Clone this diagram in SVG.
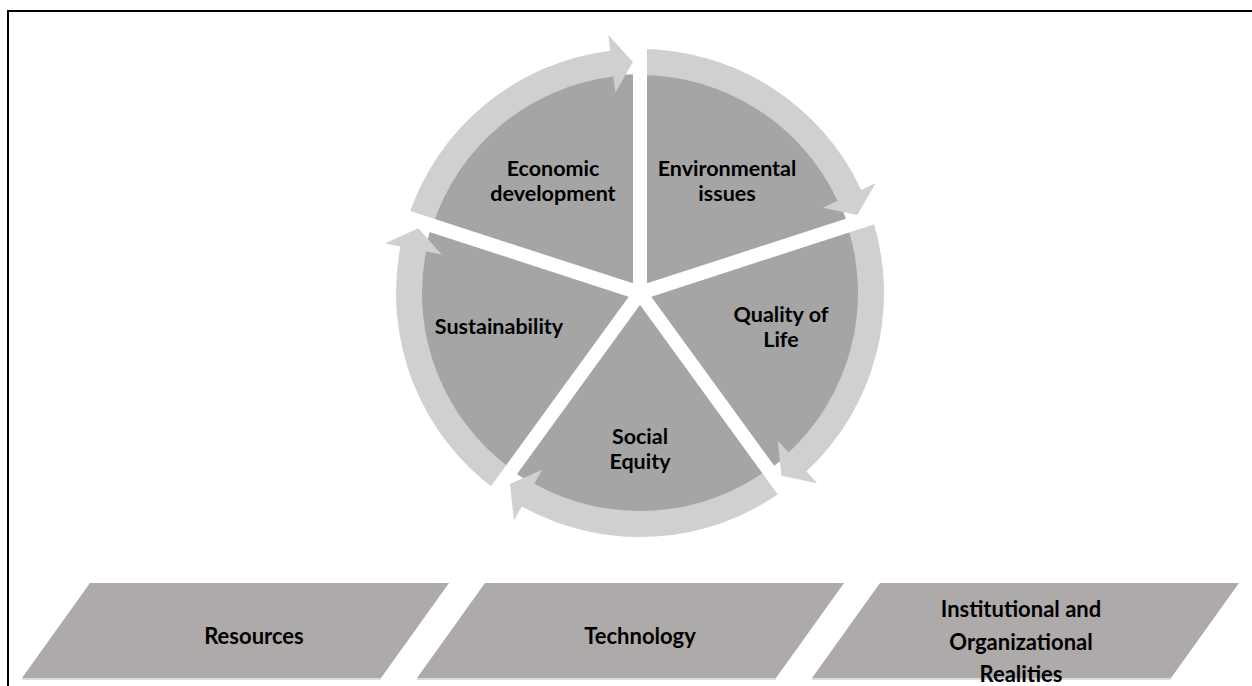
<svg xmlns="http://www.w3.org/2000/svg" xmlns:xlink="http://www.w3.org/1999/xlink" width="1252" height="686" viewBox="0 0 1252 686">
  <style>
    .sector { fill: #a5a5a5; }
    .ring { fill: #d0d0d0; }
    .gap { stroke: #ffffff; stroke-width: 14; }
    .base { fill: #aeaaaa; }
    .edge { stroke: #dcdcdc; stroke-width: 2; }
    .lbl { font-family: Lato, "Liberation Sans", sans-serif; font-weight: 700; font-size: 21.5px; fill: #000000; text-anchor: middle; }
    .blbl { font-family: Lato, "Liberation Sans", sans-serif; font-weight: 700; font-size: 22px; fill: #000000; text-anchor: middle; }
    .frame { fill: none; stroke: #000000; stroke-width: 2; }
  </style>
  <defs>
    <!-- one 72 degree pie slice, starting at 12 o'clock -->
    <path id="slice" d="M640 293 L640 74 A219 219 0 0 1 848.28 225.33 Z"/>
    <!-- curved arrow on the rim of one slice, head pointing clockwise -->
    <path id="rimArrow" d="M640 49 A244 244 0 0 1 861.14 189.88 L875.64 183.12 L857.41 214.94 L823.07 207.63 L837.58 200.87 A218 218 0 0 0 640 75 Z"/>
  </defs>

  <rect width="1252" height="686" fill="#ffffff"/>
  <path class="frame" d="M8 686 V11 H1252"/>

  <!-- cycle slices -->
  <g id="environmental">
    <use xlink:href="#slice" class="sector"/>
    <use xlink:href="#rimArrow" class="ring"/>
    <text class="lbl" x="727" y="176">Environmental</text>
    <text class="lbl" x="727" y="201">issues</text>
  </g>
  <g id="quality-of-life">
    <use xlink:href="#slice" class="sector" transform="rotate(72 640 293)"/>
    <use xlink:href="#rimArrow" class="ring" transform="rotate(72 640 293)"/>
    <text class="lbl" x="781" y="322">Quality of</text>
    <text class="lbl" x="781" y="347">Life</text>
  </g>
  <g id="social-equity">
    <use xlink:href="#slice" class="sector" transform="rotate(144 640 293)"/>
    <use xlink:href="#rimArrow" class="ring" transform="rotate(144 640 293)"/>
    <text class="lbl" x="640" y="444">Social</text>
    <text class="lbl" x="640" y="469">Equity</text>
  </g>
  <g id="sustainability">
    <use xlink:href="#slice" class="sector" transform="rotate(216 640 293)"/>
    <use xlink:href="#rimArrow" class="ring" transform="rotate(216 640 293)"/>
    <text class="lbl" x="499" y="334">Sustainability</text>
  </g>
  <g id="economic-development">
    <use xlink:href="#slice" class="sector" transform="rotate(288 640 293)"/>
    <use xlink:href="#rimArrow" class="ring" transform="rotate(288 640 293)"/>
    <text class="lbl" x="553" y="176">Economic</text>
    <text class="lbl" x="553" y="201">development</text>
  </g>

  <!-- white separators between slices -->
  <g id="connectors">
    <line class="gap" x1="640" y1="293" x2="640" y2="26"/>
    <line class="gap" x1="640" y1="293" x2="640" y2="26" transform="rotate(72 640 293)"/>
    <line class="gap" x1="640" y1="293" x2="640" y2="26" transform="rotate(144 640 293)"/>
    <line class="gap" x1="640" y1="293" x2="640" y2="26" transform="rotate(216 640 293)"/>
    <line class="gap" x1="640" y1="293" x2="640" y2="26" transform="rotate(288 640 293)"/>
  </g>

  <!-- foundation blocks -->
  <g id="resources">
    <polygon class="base" points="90,583 449,583 381,678 22,678"/>
    <line class="edge" x1="22" y1="679" x2="381" y2="679"/>
    <text class="blbl" x="254" y="644">Resources</text>
  </g>
  <g id="technology">
    <polygon class="base" points="485,583 844,583 776,678 417,678"/>
    <line class="edge" x1="417" y1="679" x2="776" y2="679"/>
    <text class="blbl" x="640" y="644">Technology</text>
  </g>
  <g id="institutional">
    <polygon class="base" points="880,583 1239,583 1171,678 812,678"/>
    <line class="edge" x1="812" y1="679" x2="1171" y2="679"/>
    <text class="blbl" x="1021" y="617">Institutional and</text>
    <text class="blbl" x="1021" y="650">Organizational</text>
    <text class="blbl" x="1021" y="682">Realities</text>
  </g>
</svg>
